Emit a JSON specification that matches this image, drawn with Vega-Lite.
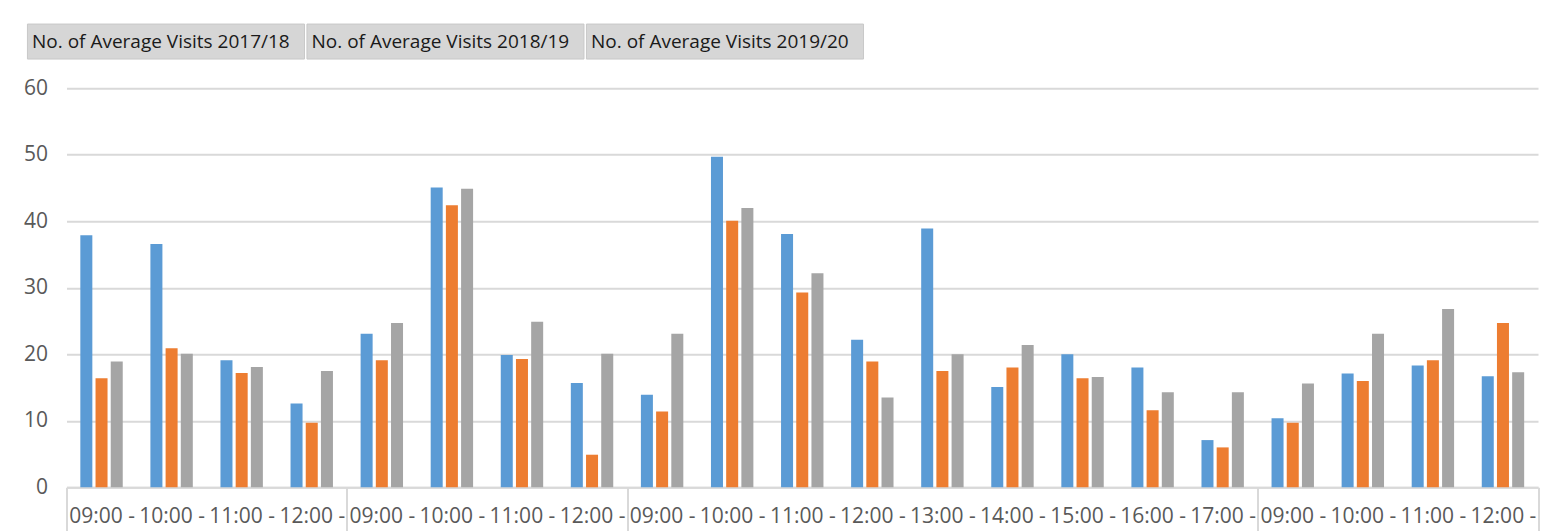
{
  "$schema": "https://vega.github.io/schema/vega-lite/v6.json",
  "width": 1471.5,
  "height": 399,
  "autosize": {"type": "none"},
  "padding": {"left": 66.5, "top": 88.3, "right": 11, "bottom": 43.7},
  "background": "white",
  "config": {
    "view": {"stroke": null},
    "font": "Open Sans",
    "legend": {"symbolBaseFillColor": "#d6d6d6", "symbolBaseStrokeColor": "#c8c8c8"}
  },
  "data": {
    "values": [
      {"slot": "A|09:00 -", "series": "No. of Average Visits 2017/18", "value": 37.9},
      {"slot": "A|09:00 -", "series": "No. of Average Visits 2018/19", "value": 16.4},
      {"slot": "A|09:00 -", "series": "No. of Average Visits 2019/20", "value": 18.9},
      {"slot": "A|10:00 -", "series": "No. of Average Visits 2017/18", "value": 36.6},
      {"slot": "A|10:00 -", "series": "No. of Average Visits 2018/19", "value": 20.9},
      {"slot": "A|10:00 -", "series": "No. of Average Visits 2019/20", "value": 20.1},
      {"slot": "A|11:00 -", "series": "No. of Average Visits 2017/18", "value": 19.1},
      {"slot": "A|11:00 -", "series": "No. of Average Visits 2018/19", "value": 17.2},
      {"slot": "A|11:00 -", "series": "No. of Average Visits 2019/20", "value": 18.1},
      {"slot": "A|12:00 -", "series": "No. of Average Visits 2017/18", "value": 12.6},
      {"slot": "A|12:00 -", "series": "No. of Average Visits 2018/19", "value": 9.7},
      {"slot": "A|12:00 -", "series": "No. of Average Visits 2019/20", "value": 17.5},
      {"slot": "B|09:00 -", "series": "No. of Average Visits 2017/18", "value": 23.1},
      {"slot": "B|09:00 -", "series": "No. of Average Visits 2018/19", "value": 19.1},
      {"slot": "B|09:00 -", "series": "No. of Average Visits 2019/20", "value": 24.7},
      {"slot": "B|10:00 -", "series": "No. of Average Visits 2017/18", "value": 45.1},
      {"slot": "B|10:00 -", "series": "No. of Average Visits 2018/19", "value": 42.4},
      {"slot": "B|10:00 -", "series": "No. of Average Visits 2019/20", "value": 44.9},
      {"slot": "B|11:00 -", "series": "No. of Average Visits 2017/18", "value": 19.9},
      {"slot": "B|11:00 -", "series": "No. of Average Visits 2018/19", "value": 19.3},
      {"slot": "B|11:00 -", "series": "No. of Average Visits 2019/20", "value": 24.9},
      {"slot": "B|12:00 -", "series": "No. of Average Visits 2017/18", "value": 15.7},
      {"slot": "B|12:00 -", "series": "No. of Average Visits 2018/19", "value": 4.9},
      {"slot": "B|12:00 -", "series": "No. of Average Visits 2019/20", "value": 20.1},
      {"slot": "C|09:00 -", "series": "No. of Average Visits 2017/18", "value": 13.9},
      {"slot": "C|09:00 -", "series": "No. of Average Visits 2018/19", "value": 11.4},
      {"slot": "C|09:00 -", "series": "No. of Average Visits 2019/20", "value": 23.1},
      {"slot": "C|10:00 -", "series": "No. of Average Visits 2017/18", "value": 49.7},
      {"slot": "C|10:00 -", "series": "No. of Average Visits 2018/19", "value": 40.1},
      {"slot": "C|10:00 -", "series": "No. of Average Visits 2019/20", "value": 42.0},
      {"slot": "C|11:00 -", "series": "No. of Average Visits 2017/18", "value": 38.1},
      {"slot": "C|11:00 -", "series": "No. of Average Visits 2018/19", "value": 29.3},
      {"slot": "C|11:00 -", "series": "No. of Average Visits 2019/20", "value": 32.2},
      {"slot": "C|12:00 -", "series": "No. of Average Visits 2017/18", "value": 22.2},
      {"slot": "C|12:00 -", "series": "No. of Average Visits 2018/19", "value": 18.9},
      {"slot": "C|12:00 -", "series": "No. of Average Visits 2019/20", "value": 13.5},
      {"slot": "C|13:00 -", "series": "No. of Average Visits 2017/18", "value": 38.9},
      {"slot": "C|13:00 -", "series": "No. of Average Visits 2018/19", "value": 17.5},
      {"slot": "C|13:00 -", "series": "No. of Average Visits 2019/20", "value": 20.0},
      {"slot": "C|14:00 -", "series": "No. of Average Visits 2017/18", "value": 15.1},
      {"slot": "C|14:00 -", "series": "No. of Average Visits 2018/19", "value": 18.0},
      {"slot": "C|14:00 -", "series": "No. of Average Visits 2019/20", "value": 21.4},
      {"slot": "C|15:00 -", "series": "No. of Average Visits 2017/18", "value": 20.0},
      {"slot": "C|15:00 -", "series": "No. of Average Visits 2018/19", "value": 16.4},
      {"slot": "C|15:00 -", "series": "No. of Average Visits 2019/20", "value": 16.6},
      {"slot": "C|16:00 -", "series": "No. of Average Visits 2017/18", "value": 18.0},
      {"slot": "C|16:00 -", "series": "No. of Average Visits 2018/19", "value": 11.6},
      {"slot": "C|16:00 -", "series": "No. of Average Visits 2019/20", "value": 14.3},
      {"slot": "C|17:00 -", "series": "No. of Average Visits 2017/18", "value": 7.1},
      {"slot": "C|17:00 -", "series": "No. of Average Visits 2018/19", "value": 6.0},
      {"slot": "C|17:00 -", "series": "No. of Average Visits 2019/20", "value": 14.3},
      {"slot": "D|09:00 -", "series": "No. of Average Visits 2017/18", "value": 10.4},
      {"slot": "D|09:00 -", "series": "No. of Average Visits 2018/19", "value": 9.7},
      {"slot": "D|09:00 -", "series": "No. of Average Visits 2019/20", "value": 15.6},
      {"slot": "D|10:00 -", "series": "No. of Average Visits 2017/18", "value": 17.1},
      {"slot": "D|10:00 -", "series": "No. of Average Visits 2018/19", "value": 16.0},
      {"slot": "D|10:00 -", "series": "No. of Average Visits 2019/20", "value": 23.1},
      {"slot": "D|11:00 -", "series": "No. of Average Visits 2017/18", "value": 18.3},
      {"slot": "D|11:00 -", "series": "No. of Average Visits 2018/19", "value": 19.1},
      {"slot": "D|11:00 -", "series": "No. of Average Visits 2019/20", "value": 26.8},
      {"slot": "D|12:00 -", "series": "No. of Average Visits 2017/18", "value": 16.7},
      {"slot": "D|12:00 -", "series": "No. of Average Visits 2018/19", "value": 24.7},
      {"slot": "D|12:00 -", "series": "No. of Average Visits 2019/20", "value": 17.3}
    ]
  },
  "mark": {"type": "bar"},
  "encoding": {
    "x": {
      "field": "slot",
      "type": "nominal",
      "sort": null,
      "scale": {"paddingInner": 0, "paddingOuter": 0},
      "axis": {
        "title": null,
        "labelExpr": "split(datum.label, '|')[1]",
        "labelAngle": 0,
        "labelFont": "Open Sans",
        "labelFontSize": 21,
        "labelColor": "#595959",
        "labelPadding": -31.5,
        "labelLimit": 0,
        "tickBand": "extent",
        "tickSize": 50,
        "tickWidth": 2,
        "tickColor": "#d9d9d9",
        "tickOpacity": {
          "condition": {
            "test": "!isValid(datum.value) || indexof(['A|12:00 -','B|12:00 -','C|17:00 -','D|12:00 -'], datum.value) >= 0",
            "value": 1
          },
          "value": 0
        },
        "domainColor": "#d9d9d9",
        "domainWidth": 2,
        "grid": false
      }
    },
    "xOffset": {
      "field": "series",
      "type": "nominal",
      "scale": {"paddingInner": 0.21, "paddingOuter": 0.91}
    },
    "y": {
      "field": "value",
      "type": "quantitative",
      "scale": {"domain": [0, 60]},
      "axis": {
        "title": null,
        "values": [0, 10, 20, 30, 40, 50, 60],
        "domain": false,
        "ticks": false,
        "labelPadding": 19,
        "labelFont": "Open Sans",
        "labelFontSize": 21,
        "labelColor": "#595959",
        "gridColor": "#d9d9d9",
        "gridWidth": 2
      }
    },
    "color": {
      "field": "series",
      "type": "nominal",
      "scale": {"range": ["#5B9BD5", "#ED7D31", "#A5A5A5"]},
      "legend": null
    },
    "opacity": {
      "field": "series",
      "type": "nominal",
      "scale": {
        "type": "point",
        "domain": ["No. of Average Visits 2017/18", "No. of Average Visits 2018/19", "No. of Average Visits 2019/20"],
        "range": [1, 1]
      },
      "legend": {
        "title": null,
        "orient": "none",
        "legendX": -38.5,
        "legendY": -65,
        "direction": "horizontal",
        "symbolType": "M-1.06,-1H14.77V1H-1.06Z",
        "symbolSize": 1225,
        "symbolStrokeWidth": 1,
        "symbolStrokeColor": "#c8c8c8",
        "symbolFillColor": "#d6d6d6",
        "labelFont": "Open Sans",
        "labelFontSize": 19,
        "labelColor": "#1a1a1a",
        "labelOffset": -32,
        "labelLimit": 0,
        "columnPadding": -2.5
      }
    }
  }
}
